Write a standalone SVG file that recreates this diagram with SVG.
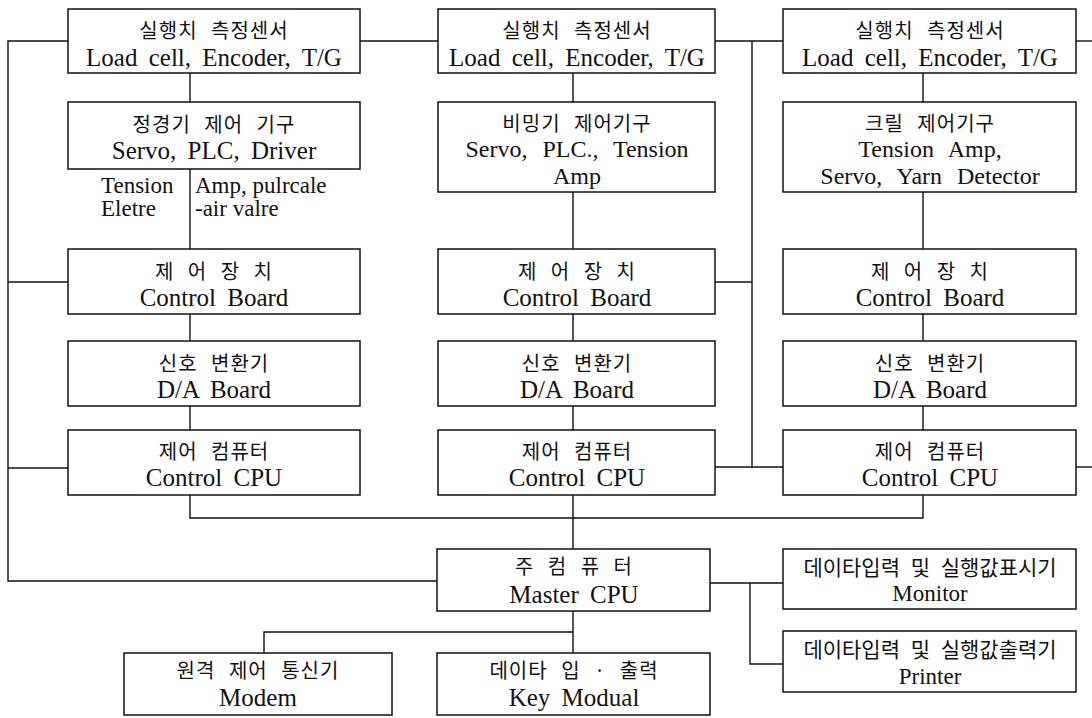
<svg xmlns="http://www.w3.org/2000/svg" width="1092" height="718" viewBox="0 0 1092 718">
<style>
rect.b{fill:#fff;stroke:#111;stroke-width:1.5}
.c line,.c polyline{stroke:#111;stroke-width:1.4;fill:none}
text{fill:#111;text-anchor:middle}
.kr{font-family:"Noto Sans CJK KR",sans-serif;font-size:20px;letter-spacing:1px;word-spacing:8px}
.kr2{font-family:"Noto Sans CJK KR",sans-serif;font-size:21px;word-spacing:6px}
.en{font-family:"Liberation Serif",serif;font-size:25px;word-spacing:5px}
.en3{font-family:"Liberation Serif",serif;font-size:24px;word-spacing:9px}
.en2{font-family:"Liberation Serif",serif;font-size:23px}
.lab{font-family:"Liberation Serif",serif;font-size:23px;text-anchor:start}
</style>
<rect width="1092" height="718" fill="#fff"/>
<g class="c" id="connectors">
<polyline points="68,41 8,41 8,581 437,581"/>
<line x1="8" y1="282" x2="68" y2="282"/>
<line x1="8" y1="468" x2="68" y2="468"/>
<line x1="360" y1="41" x2="438" y2="41"/>
<line x1="715" y1="41" x2="783" y2="41"/>
<line x1="1076" y1="41" x2="1092" y2="41"/>
<line x1="752" y1="41" x2="752" y2="467"/>
<line x1="715" y1="282" x2="752" y2="282"/>
<line x1="715" y1="467" x2="783" y2="467"/>
<line x1="1076" y1="467" x2="1092" y2="467"/>
<line x1="190" y1="73" x2="190" y2="102"/>
<line x1="190" y1="169" x2="190" y2="249"/>
<line x1="190" y1="314" x2="190" y2="341"/>
<line x1="190" y1="406" x2="190" y2="430"/>
<line x1="573" y1="73" x2="573" y2="102"/>
<line x1="573" y1="192" x2="573" y2="249"/>
<line x1="573" y1="314" x2="573" y2="341"/>
<line x1="573" y1="406" x2="573" y2="430"/>
<line x1="573" y1="495" x2="573" y2="549"/>
<line x1="923" y1="73" x2="923" y2="102"/>
<line x1="923" y1="192" x2="923" y2="249"/>
<line x1="923" y1="314" x2="923" y2="341"/>
<line x1="923" y1="406" x2="923" y2="430"/>
<polyline points="190,495 190,518 923,518 923,495"/>
<line x1="573" y1="611" x2="573" y2="653"/>
<polyline points="573,632 264,632 264,653"/>
<line x1="710" y1="583" x2="783" y2="583"/>
<polyline points="750,583 750,664 783,664"/>
</g>
<g id="label-tension">
<text class="lab" x="101" y="193">Tension</text>
<text class="lab" x="101" y="216">Eletre</text>
<text class="lab" x="195" y="193">Amp, pulrcale</text>
<text class="lab" x="195" y="216">-air valre</text>
</g>
<g id="sensor1"><rect class="b" x="68" y="9" width="292" height="64"/><text class="kr" x="214" y="38">실행치 측정센서</text><text class="en" x="214" y="66">Load cell, Encoder, T/G</text></g>
<g id="sensor2"><rect class="b" x="438" y="9" width="277" height="64"/><text class="kr" x="577" y="38">실행치 측정센서</text><text class="en" x="577" y="66">Load cell, Encoder, T/G</text></g>
<g id="sensor3"><rect class="b" x="783" y="9" width="293" height="64"/><text class="kr" x="930" y="38">실행치 측정센서</text><text class="en" x="930" y="66">Load cell, Encoder, T/G</text></g>
<g id="mech1"><rect class="b" x="68" y="102" width="292" height="67"/><text class="kr" x="214" y="132">정경기 제어 기구</text><text class="en" x="214" y="159">Servo, PLC, Driver</text></g>
<g id="mech2"><rect class="b" x="438" y="102" width="277" height="90"/><text class="kr" x="577" y="131">비밍기 제어기구</text><text class="en3" x="577" y="157">Servo, PLC., Tension</text><text class="en3" x="577" y="184">Amp</text></g>
<g id="mech3"><rect class="b" x="783" y="102" width="293" height="90"/><text class="kr" x="930" y="131">크릴 제어기구</text><text class="en3" x="930" y="157">Tension Amp,</text><text class="en3" x="930" y="184">Servo, Yarn Detector</text></g>
<g id="board1"><rect class="b" x="68" y="249" width="292" height="65"/><text class="kr" x="214" y="279">제 어 장 치</text><text class="en" x="214" y="306">Control Board</text></g>
<g id="board2"><rect class="b" x="438" y="249" width="277" height="65"/><text class="kr" x="577" y="279">제 어 장 치</text><text class="en" x="577" y="306">Control Board</text></g>
<g id="board3"><rect class="b" x="783" y="249" width="293" height="65"/><text class="kr" x="930" y="279">제 어 장 치</text><text class="en" x="930" y="306">Control Board</text></g>
<g id="da1"><rect class="b" x="68" y="341" width="292" height="65"/><text class="kr" x="214" y="371">신호 변환기</text><text class="en" x="214" y="398">D/A Board</text></g>
<g id="da2"><rect class="b" x="438" y="341" width="277" height="65"/><text class="kr" x="577" y="371">신호 변환기</text><text class="en" x="577" y="398">D/A Board</text></g>
<g id="da3"><rect class="b" x="783" y="341" width="293" height="65"/><text class="kr" x="930" y="371">신호 변환기</text><text class="en" x="930" y="398">D/A Board</text></g>
<g id="cpu1"><rect class="b" x="68" y="430" width="292" height="65"/><text class="kr" x="214" y="459">제어 컴퓨터</text><text class="en" x="214" y="486">Control CPU</text></g>
<g id="cpu2"><rect class="b" x="438" y="430" width="277" height="65"/><text class="kr" x="577" y="459">제어 컴퓨터</text><text class="en" x="577" y="486">Control CPU</text></g>
<g id="cpu3"><rect class="b" x="783" y="430" width="293" height="65"/><text class="kr" x="930" y="459">제어 컴퓨터</text><text class="en" x="930" y="486">Control CPU</text></g>
<g id="master"><rect class="b" x="437" y="549" width="273" height="62"/><text class="kr" x="574" y="574">주 컴 퓨 터</text><text class="en" x="574" y="603">Master CPU</text></g>
<g id="monitor"><rect class="b" x="783" y="549" width="293" height="60"/><text class="kr2" x="930" y="575">데이타입력 및 실행값표시기</text><text class="en2" x="930" y="601">Monitor</text></g>
<g id="printer"><rect class="b" x="783" y="631" width="293" height="61"/><text class="kr2" x="930" y="657">데이타입력 및 실행값출력기</text><text class="en2" x="930" y="684">Printer</text></g>
<g id="modem"><rect class="b" x="124" y="653" width="268" height="62"/><text class="kr" x="258" y="678">원격 제어 통신기</text><text class="en" x="258" y="706">Modem</text></g>
<g id="keymod"><rect class="b" x="437" y="653" width="273" height="62"/><text class="kr" x="574" y="678">데이타 입 · 출력</text><text class="en" x="574" y="706">Key Modual</text></g>
</svg>
